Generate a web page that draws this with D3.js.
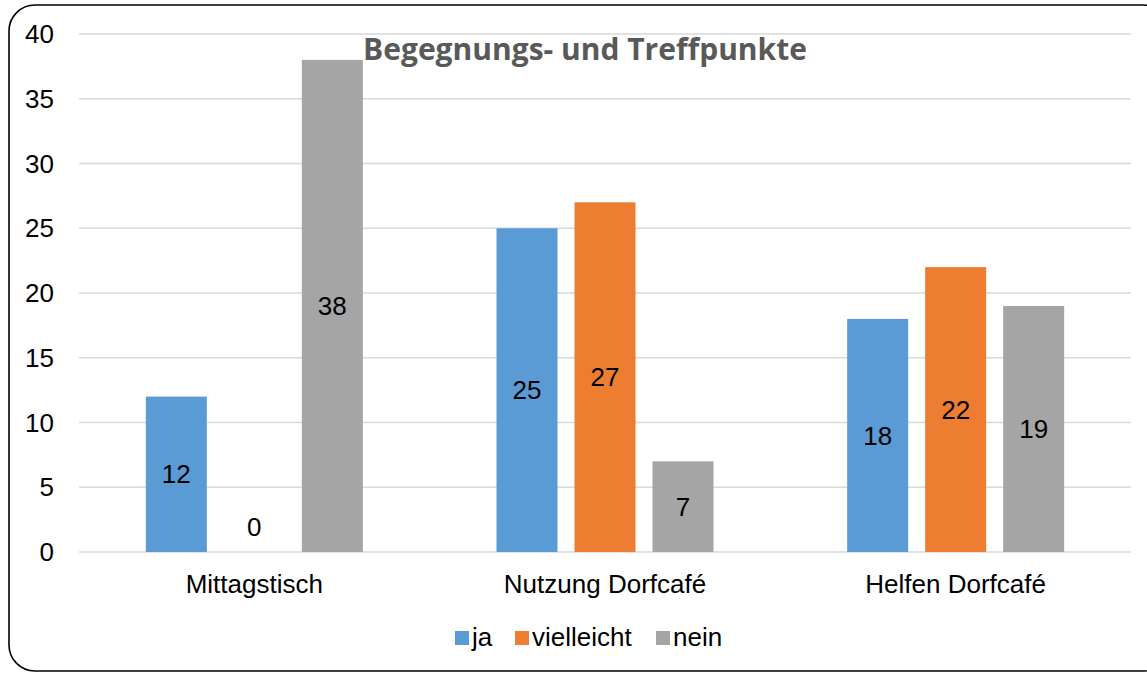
<!DOCTYPE html>
<html>
<head>
<meta charset="utf-8">
<script src="https://cdn.jsdelivr.net/npm/d3@7/dist/d3.min.js"></script>
<style>
  html, body { margin: 0; padding: 0; background: #fff; }
  svg { display: block; }
</style>
</head>
<body>
<div id="chart"></div>
<script>
const categories = ['Mittagstisch', 'Nutzung Dorfcafé', 'Helfen Dorfcafé'];
const seriesNames = ['ja', 'vielleicht', 'nein'];
const ja = [12, 25, 18];
const vielleicht = [0, 27, 22];
const nein = [38, 7, 19];
const yTicks = [0, 5, 10, 15, 20, 25, 30, 35, 40];
const colors = ['#5B9BD5', '#ED7D31', '#A5A5A5'];

const width = 1147;
const height = 673;
const series = [ja, vielleicht, nein];
const font = 'Liberation Sans, Arial, sans-serif';
const fontSize = 26;

const svg = d3.select('#chart')
    .append('svg')
    .attr('width', width)
    .attr('height', height);

// frame with rounded corners (partly cut off on the right / bottom)
svg.append('rect')
    .attr('x', 9)
    .attr('y', 5)
    .attr('width', 1160)
    .attr('height', 666)
    .attr('rx', 26)
    .attr('fill', 'none')
    .attr('stroke', '#000')
    .attr('stroke-width', 1.6);

const plot = { left: 79, right: 1131, top: 34, bottom: 552 };

const x0 = d3.scaleBand()
    .domain(categories)
    .range([plot.left, plot.right]);

const x1 = d3.scaleBand()
    .domain(seriesNames)
    .range([0, 61 * 3 + 17 * 2])
    .paddingInner(17 / 78);

const y = d3.scaleLinear()
    .domain([0, 40])
    .range([plot.bottom, plot.top]);

// gridlines
svg.append('g')
    .selectAll('line')
    .data(yTicks)
    .join('line')
    .attr('x1', plot.left)
    .attr('x2', plot.right)
    .attr('y1', d => y(d))
    .attr('y2', d => y(d))
    .attr('stroke', '#D9D9D9')
    .attr('stroke-width', 1.3);

// y tick labels
svg.append('g')
    .selectAll('text')
    .data(yTicks)
    .join('text')
    .attr('x', 54)
    .attr('y', d => y(d))
    .attr('dy', '0.35em')
    .attr('text-anchor', 'end')
    .attr('font-family', font)
    .attr('font-size', fontSize)
    .attr('fill', '#000')
    .text(d => d);

// bars
const groups = svg.append('g')
    .selectAll('g')
    .data(categories)
    .join('g')
    .attr('transform', c => `translate(${x0(c) + (x0.bandwidth() - x1.range()[1]) / 2},0)`);

const cells = groups.selectAll('g')
    .data((c, ci) => seriesNames.map((s, si) => ({ s, si, v: series[si][ci] })))
    .join('g');

cells.append('rect')
    .attr('x', d => x1(d.s))
    .attr('y', d => y(d.v))
    .attr('width', x1.bandwidth())
    .attr('height', d => y(0) - y(d.v))
    .attr('fill', d => colors[d.si]);

cells.append('text')
    .attr('x', d => x1(d.s) + x1.bandwidth() / 2)
    .attr('y', d => d.v === 0 ? y(0) - 25 : (y(d.v) + y(0)) / 2)
    .attr('dy', '0.35em')
    .attr('text-anchor', 'middle')
    .attr('font-family', font)
    .attr('font-size', fontSize)
    .attr('fill', '#000')
    .text(d => d.v);

// category labels
svg.append('g')
    .selectAll('text')
    .data(categories)
    .join('text')
    .attr('x', c => x0(c) + x0.bandwidth() / 2)
    .attr('y', 583.5)
    .attr('dy', '0.35em')
    .attr('text-anchor', 'middle')
    .attr('font-family', font)
    .attr('font-size', fontSize)
    .attr('fill', '#000')
    .text(c => c);

// title
svg.append('text')
    .attr('x', 585)
    .attr('y', 60)
    .attr('text-anchor', 'middle')
    .attr('font-family', 'Open Sans, sans-serif')
    .attr('font-weight', 'bold')
    .attr('font-size', 30)
    .attr('fill', '#595959')
    .text('Begegnungs- und Treffpunkte');

// legend
const legendX = [455, 515, 656];
const legend = svg.append('g')
    .selectAll('g')
    .data(seriesNames)
    .join('g')
    .attr('transform', (d, i) => `translate(${legendX[i]},637)`);

legend.append('rect')
    .attr('x', 0)
    .attr('y', -6)
    .attr('width', 14)
    .attr('height', 14)
    .attr('fill', (d, i) => colors[i]);

legend.append('text')
    .attr('x', 17)
    .attr('y', 0)
    .attr('dy', '0.35em')
    .attr('font-family', font)
    .attr('font-size', fontSize)
    .attr('fill', '#000')
    .text(d => d);
</script>
</body>
</html>
